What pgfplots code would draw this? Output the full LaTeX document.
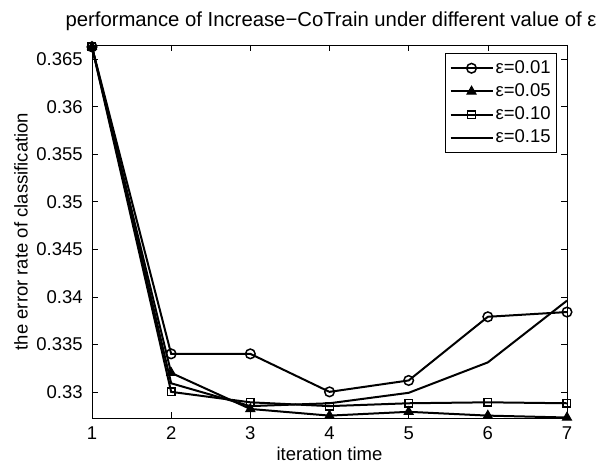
\documentclass[border=0pt]{standalone}
\usepackage{pgfplots}
\pgfplotsset{compat=1.18}
\usepackage{fontspec}
\setmainfont{Liberation Sans}

\pgfplotsset{myleg/.style={
  legend image code/.code={%
    \draw[mark repeat=2,mark phase=2,##1] plot coordinates {(0pt,0pt) (21pt,0pt) (42pt,0pt)};}}}

\begin{document}
\fontsize{18.5}{22}\selectfont
\begin{tikzpicture}
\begin{axis}[
  name=main,
  scale only axis, width=475pt, height=373pt,
  xmin=1, xmax=7, ymin=0.32725, ymax=0.3665,
  xtick={1,2,3,4,5,6,7},
  ytick={0.33,0.335,0.34,0.345,0.35,0.355,0.36,0.365},
  yticklabels={0.33,0.335,0.34,0.345,0.35,0.355,0.36,0.365},
  /pgf/number format/assume math mode=true,
  tick align=inside, major tick length=6pt,
  tick style={black, line width=0.6pt},
  axis line style={line width=0.8pt},
  xticklabel style={yshift=-2pt},
  yticklabel style={xshift=-3pt},
  xlabel={iteration time},
  ylabel={the error rate of classification},
  xlabel style={yshift=5pt},
  ylabel style={yshift=-4pt},
  title={performance of Increase−CoTrain under different value of ε},
  title style={font=\fontsize{20.3}{24}\selectfont, yshift=2pt, xshift=1.5pt},
  legend style={at={(1,1)}, anchor=north east, xshift=-10pt, yshift=-8pt,
    draw=black, line width=0.8pt, fill=white, inner xsep=4pt, inner ysep=5pt,
    row sep=3.5pt, font=\fontsize{18.5}{22}\selectfont},
  legend cell align=left,
  every axis plot post/.append style={myleg},
]
\addplot[black, line width=2pt, mark=o, mark size=4.8pt, mark options={fill=white, line width=1.5pt}]
  coordinates {(1,0.3663)(2,0.3340)(3,0.3340)(4,0.3300)(5,0.3312)(6,0.3379)(7,0.3384)};
\addlegendentry{ε=0.01}
\addplot[black, line width=2pt, mark=triangle*, mark size=5.2pt, mark options={line width=1pt}]
  coordinates {(1,0.3663)(2,0.3320)(3,0.3282)(4,0.3275)(5,0.3279)(6,0.3275)(7,0.3273)};
\addlegendentry{ε=0.05}
\addplot[black, line width=2pt, mark=square, mark size=3.8pt, mark options={fill=white, line width=1.4pt}]
  coordinates {(1,0.3663)(2,0.3300)(3,0.3289)(4,0.3285)(5,0.3288)(6,0.3289)(7,0.3288)};
\addlegendentry{ε=0.10}
\addplot[black, line width=2pt, no marks]
  coordinates {(1,0.3663)(2,0.3309)(3,0.3285)(4,0.3288)(5,0.3299)(6,0.3331)(7,0.3396)};
\addlegendentry{ε=0.15}
\end{axis}
\pgfresetboundingbox
\useasboundingbox ([xshift=-92pt,yshift=-47pt]main.south west) rectangle ++(598pt,465pt);
\end{tikzpicture}
\end{document}
